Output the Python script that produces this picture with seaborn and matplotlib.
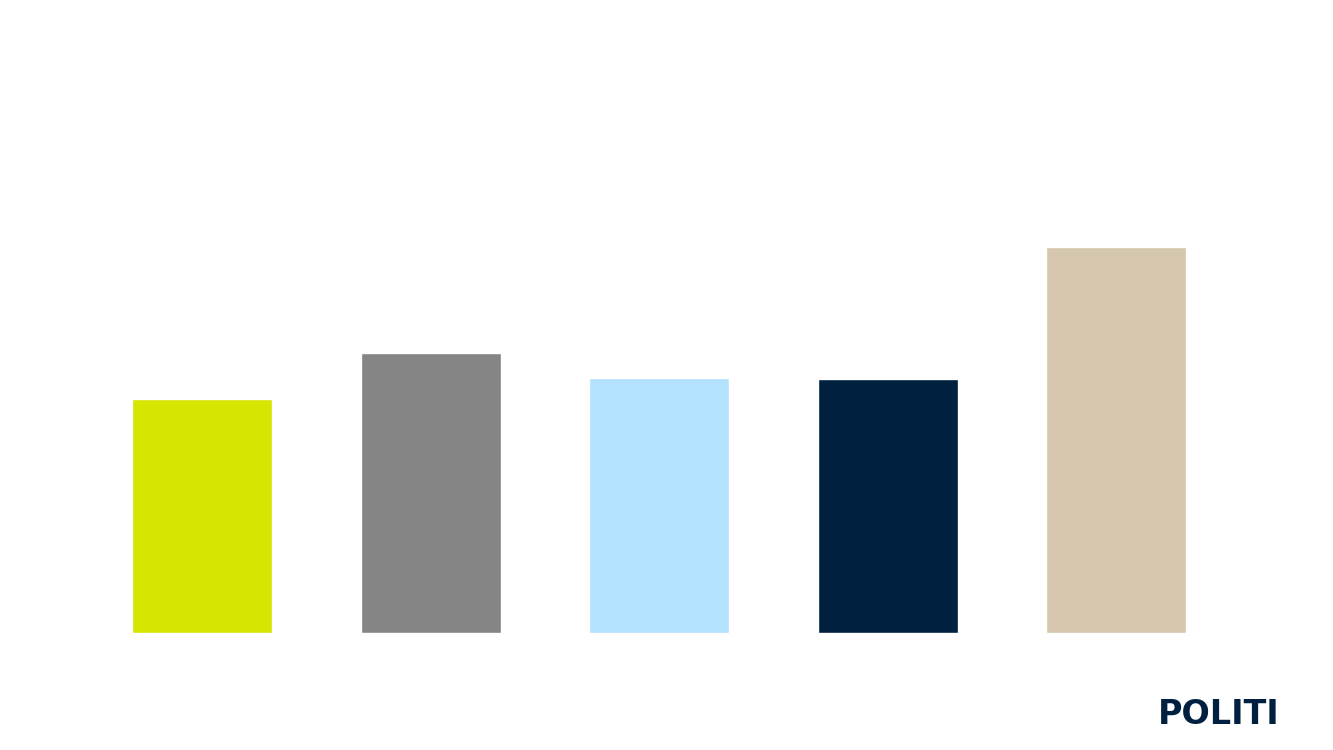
import pandas as pd
import matplotlib
matplotlib.use('Agg')
import matplotlib.pyplot as plt
import seaborn as sns

# Bar values (no axis in the reference, read as relative heights)
categories = ['A', 'B', 'C', 'D', 'E']
values = [6.06, 7.25, 6.61, 6.58, 10.0]
colors = ['#D6E600', '#858585', '#B2E2FE', '#00203F', '#D4C7AD']

df = pd.DataFrame({'category': categories, 'value': values})

sns.set_style('white')
fig = plt.figure(figsize=(13.33, 7.5), dpi=100)
ax = fig.add_axes([0.0658, 0.156, 0.8575, 0.7107])

sns.barplot(data=df, x='category', y='value', hue='category',
            palette=colors, legend=False, width=0.612, saturation=1, ax=ax)

ax.set_xlim(-0.5, 4.5)
ax.set_ylim(0, 13.81)
ax.axis('off')

# logo text bottom right
fig.text(1280 / 1333, 0.0347, 'POLITI', ha='right', va='baseline',
         fontsize=24, fontweight='heavy', color='#00203F',
         family='DejaVu Sans')

fig.savefig('out.png', dpi=100, facecolor='white')
